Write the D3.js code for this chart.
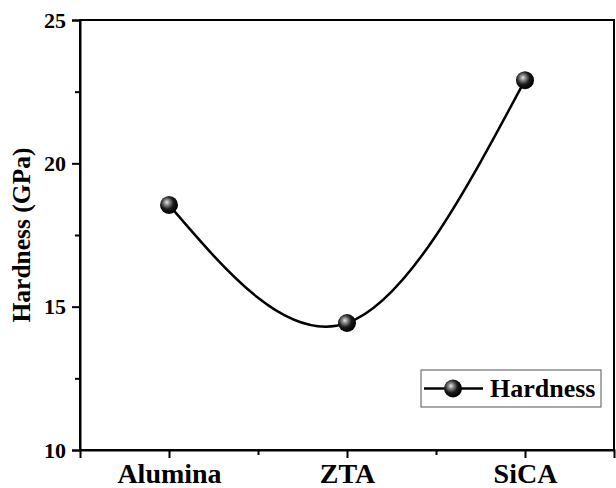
<!DOCTYPE html>
<html>
<head>
<meta charset="utf-8">
<script src="https://cdn.jsdelivr.net/npm/d3@7"></script>
<style>
  body { margin: 0; background: #fff; }
  text { font-family: "Liberation Serif", "Times New Roman", serif; font-weight: bold; fill: #000; }
</style>
</head>
<body>
<div id="chart"></div>
<script>
const categories = ["Alumina", "ZTA", "SiCA"]
const hardness = [18.55, 14.43, 22.9]
const yTicks = [10, 15, 20, 25]
const yMinorTicks = [12.5, 17.5, 22.5]
const xMinorTicks = [1.5, 2.5]

const width = 616
const height = 488
let dimensions = {
  width: width,
  height: height,
  margin: { top: 20, right: 2, bottom: 38, left: 80 },
}
dimensions.boundedWidth = dimensions.width - dimensions.margin.left - dimensions.margin.right
dimensions.boundedHeight = dimensions.height - dimensions.margin.top - dimensions.margin.bottom

const svg = d3.select("#chart")
  .append("svg")
  .attr("width", dimensions.width)
  .attr("height", dimensions.height)

// sphere gradient for markers
const defs = svg.append("defs")
const grad = defs.append("radialGradient")
  .attr("id", "ball")
  .attr("cx", "40%").attr("cy", "40%").attr("r", "60%")
  .attr("fx", "38%").attr("fy", "35%")
grad.append("stop").attr("offset", "0%").attr("stop-color", "#e8e8e8")
grad.append("stop").attr("offset", "25%").attr("stop-color", "#8a8a8a")
grad.append("stop").attr("offset", "60%").attr("stop-color", "#1a1a1a")
grad.append("stop").attr("offset", "100%").attr("stop-color", "#000")

const bounds = svg.append("g")
  .attr("transform", `translate(${dimensions.margin.left},${dimensions.margin.top})`)

const xScale = d3.scaleLinear()
  .domain([0.5, 3.5])
  .range([0, dimensions.boundedWidth])
const yScale = d3.scaleLinear()
  .domain([10, 25])
  .range([dimensions.boundedHeight, 0])

// frame
bounds.append("rect")
  .attr("width", dimensions.boundedWidth)
  .attr("height", dimensions.boundedHeight)
  .attr("fill", "none")
  .attr("stroke", "#000")
  .attr("stroke-width", 2)

// y axis
const yAxis = bounds.append("g")
  .call(d3.axisLeft(yScale).tickValues(yTicks).tickFormat(d3.format("d")).tickSize(8).tickPadding(6))
bounds.append("g")
  .call(d3.axisLeft(yScale).tickValues(yMinorTicks).tickFormat("").tickSize(5))
  .call(g => g.select(".domain").remove())

// x axis
const xAxis = bounds.append("g")
  .attr("transform", `translate(0,${dimensions.boundedHeight})`)
  .call(d3.axisBottom(xScale).tickValues([1, 2, 3]).tickFormat(d => categories[d - 1]).tickSize(8).tickPadding(5))
bounds.append("g")
  .attr("transform", `translate(0,${dimensions.boundedHeight})`)
  .call(d3.axisBottom(xScale).tickValues(xMinorTicks).tickFormat("").tickSize(5))
  .call(g => g.select(".domain").remove())

bounds.selectAll(".domain").attr("stroke-width", 2)
bounds.selectAll(".tick line").attr("stroke-width", 2)
yAxis.selectAll(".tick text").style("font-size", "22px").attr("font-family", null)
xAxis.selectAll(".tick text").style("font-size", "28px").attr("font-family", null)

// y label
svg.append("text")
  .attr("transform", "translate(30,235) rotate(-90)")
  .attr("text-anchor", "middle")
  .style("font-size", "25.5px")
  .text("Hardness (GPa)")

// data line
const points = hardness.map((d, i) => [xScale(i + 1), yScale(d)])
bounds.append("path")
  .attr("d", d3.line().curve(d3.curveNatural)(points))
  .attr("fill", "none")
  .attr("stroke", "#000")
  .attr("stroke-width", 2.5)

bounds.selectAll("circle.pt")
  .data(points)
  .join("circle")
  .attr("class", "pt")
  .attr("cx", d => d[0])
  .attr("cy", d => d[1])
  .attr("r", 9)
  .attr("fill", "url(#ball)")

// legend
const legend = svg.append("g").attr("transform", "translate(421,370)")
legend.append("rect")
  .attr("width", 180)
  .attr("height", 37)
  .attr("fill", "#fff")
  .attr("stroke", "#555")
  .attr("stroke-width", 1)
legend.append("line")
  .attr("x1", 3).attr("x2", 62)
  .attr("y1", 18.5).attr("y2", 18.5)
  .attr("stroke", "#000")
  .attr("stroke-width", 2.5)
legend.append("circle")
  .attr("cx", 32).attr("cy", 18.5).attr("r", 9)
  .attr("fill", "url(#ball)")
legend.append("text")
  .attr("x", 69).attr("y", 27)
  .style("font-size", "26px")
  .text("Hardness")
</script>
</body>
</html>
